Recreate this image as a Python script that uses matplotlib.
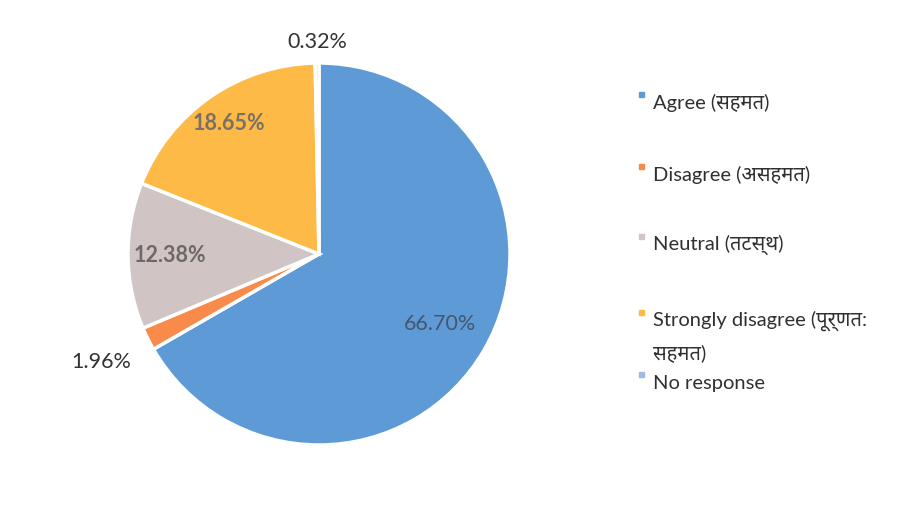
import matplotlib
matplotlib.use("Agg")
import matplotlib.pyplot as plt
from matplotlib import font_manager
from matplotlib.patches import Rectangle
import numpy as np

# data
labels = ["Agree (सहमत)", "Disagree (असहमत)", "Neutral (तटस्थ)",
          "Strongly disagree (पूर्णत:\nसहमत)", "No response"]
values = [66.70, 1.96, 12.38, 18.65, 0.32]
pct_text = ["66.70%", "1.96%", "12.38%", "18.65%", "0.32%"]
colors = ["#5E9BD6", "#F88A4A", "#D0C5C4", "#FDBA47", "#9DBBE3"]

# pick a devanagari font if there is one
have = {f.name for f in font_manager.fontManager.ttflist}
deva = [n for n in ["Noto Sans Devanagari", "Hind", "Mukta", "Poppins"] if n in have][:1]
plt.rcParams["font.family"] = ["Lato"] + deva + ["DejaVu Sans"]

W, H = 904, 513
fig = plt.figure(figsize=(W / 100, H / 100), dpi=100)
cx, cy, r = 319, 254, 191
ax = fig.add_axes([(cx - r) / W, (H - cy - r) / H, 2 * r / W, 2 * r / H])

wedges, _ = ax.pie(values, colors=colors, startangle=90, counterclock=False,
                   wedgeprops=dict(edgecolor="white", linewidth=2.5))
ax.set_xlim(-1, 1)
ax.set_ylim(-1, 1)
ax.set_aspect("equal")
ax.axis("off")

# label spots (distance from centre in radii) and looks
dist = [0.73, 1.27, 0.78, 0.83, 1.11]
tcol = ["#46566C", "#333333", "#6E6868", "#7A7068", "#333333"]
bold = [False, False, True, True, False]
for w, t, d, c, b in zip(wedges, pct_text, dist, tcol, bold):
    a = np.deg2rad((w.theta1 + w.theta2) / 2)
    ax.text(d * np.cos(a), d * np.sin(a), t, ha="center", va="center",
            fontsize=15.5, color=c, fontweight="bold" if b else "normal")

# legend drawn by hand because the entries are not evenly spaced
ly = [103, 175, 245, 310, 383]
for lab, col, y in zip(labels, colors, ly):
    two = "\n" in lab
    my = y + 5 if two else y - 6
    fig.patches.append(Rectangle((639 / W, 1 - my / H), 5 / W, 5 / H,
                                 transform=fig.transFigure, color=col))
    fig.text(653 / W, 1 - y / H, lab, ha="left", va="top" if two else "center",
             fontsize=14.5, color="#303030", linespacing=1.95,
             transform=fig.transFigure)

fig.savefig("out.png", dpi=100, facecolor="white")
